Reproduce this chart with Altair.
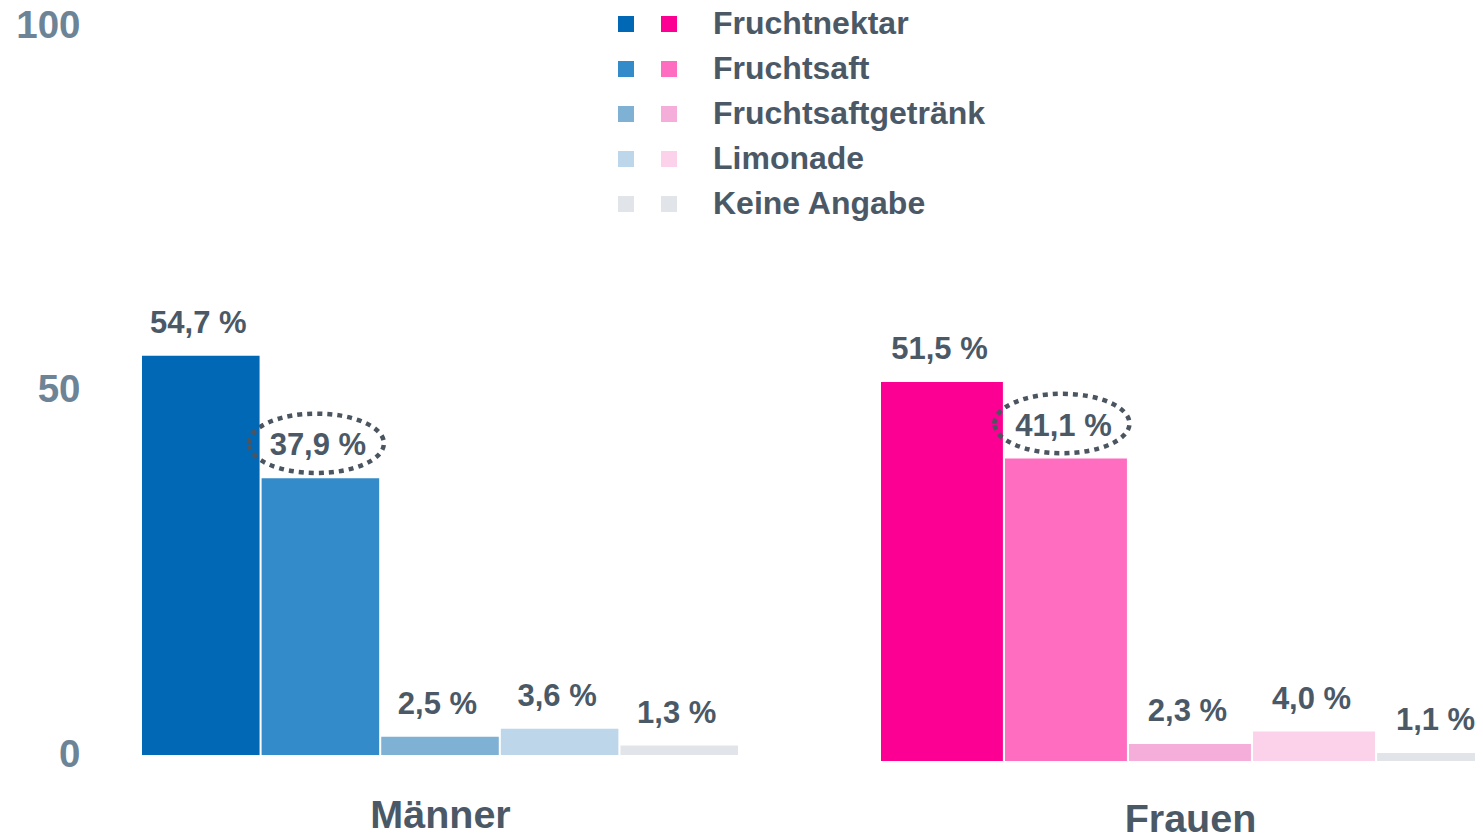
import altair as alt
import pandas as pd

drinks = ["Fruchtnektar", "Fruchtsaft", "Fruchtsaftgetränk", "Limonade", "Keine Angabe"]
maenner_values = [54.7, 37.9, 2.5, 3.6, 1.3]
frauen_values = [51.5, 41.1, 2.3, 4.0, 1.1]
maenner_colors = ["#0068b5", "#348bca", "#7fb1d4", "#bdd6ea", "#e1e5ea"]
frauen_colors = ["#fc0093", "#ff6dc1", "#f5aed9", "#fbd2e9", "#e1e5ea"]
highlight = "Fruchtsaft"
y_ticks = [0, 50, 100]

FONT = "Liberation Sans"
TEXT = "#4b5967"
AXIS = "#6d8497"
DOTS = "#4a5560"
ELLIPSE = "M -1 0 A 1 0.44 0 1 1 1 0 A 1 0.44 0 1 1 -1 0 Z"


def fmt(v):
    return f"{v:.1f}".replace(".", ",") + " %"


def frame(values):
    return pd.DataFrame({
        "Getränk": drinks,
        "Wert": values,
        "Label": [fmt(v) for v in values],
        "Hervor": [d == highlight for d in drinks],
    })


def group(df, colors, x_range, y_domain, title, title_pad, legend_x, show_labels, show_y):
    x = alt.X(
        "Getränk:N", sort=drinks,
        scale=alt.Scale(range=x_range, paddingInner=0.017, paddingOuter=0),
        axis=alt.Axis(labels=False, ticks=False, domain=False, grid=False, orient="bottom",
                      title=title, titlePadding=title_pad, titleFont=FONT, titleFontSize=39.5,
                      titleFontWeight="bold", titleColor=TEXT),
    )
    if show_y:
        y_axis = alt.Axis(values=y_ticks, domain=False, ticks=False, grid=False, title=None,
                          labelFont=FONT, labelFontSize=38.5, labelFontWeight="bold",
                          labelColor=AXIS, labelPadding=8)
    else:
        y_axis = None
    y = alt.Y("Wert:Q", scale=alt.Scale(domain=y_domain, nice=False), axis=y_axis)

    legend_opts = dict(orient="none", legendX=legend_x, legendY=-17, title=None,
                       symbolType="square", symbolSize=256, symbolStrokeWidth=0,
                       labelFont=FONT, labelFontSize=32, labelFontWeight="bold",
                       labelColor=TEXT, labelOffset=28, rowPadding=13, padding=0,
                       labelLimit=400)
    if not show_labels:
        legend_opts["labelExpr"] = "''"

    bars = alt.Chart(df).mark_bar(clip=True).encode(
        x=x, y=y, y2=alt.datum(0),
        color=alt.Color(
            "Getränk:N", sort=drinks,
            scale=alt.Scale(domain=drinks, range=colors),
            legend=alt.Legend(**legend_opts),
        ),
    )
    labels = alt.Chart(df).mark_text(
        dy=-32, dx=-2.5, font=FONT, fontSize=31, fontWeight="bold", color=TEXT, baseline="middle"
    ).encode(x=alt.X("Getränk:N", sort=drinks), y="Wert:Q", text="Label:N")
    ring = alt.Chart(df).transform_filter("datum.Hervor").mark_point(
        shape=ELLIPSE, size=18225, filled=False, stroke=DOTS, strokeWidth=4.5,
        strokeDash=[5, 5], strokeCap="butt", opacity=1, xOffset=-4, yOffset=-35
    ).encode(x=alt.X("Getränk:N", sort=drinks), y="Wert:Q")
    return alt.layer(bars, labels, ring)


maenner = group(frame(maenner_values), maenner_colors, [54, 650], [-0.822, 100],
                "Männer", 35, 522, False, True)
frauen = group(frame(frauen_values), frauen_colors, [793, 1411], [0, 100],
               "Frauen", 39, 565, True, False)

chart = alt.layer(maenner, frauen).resolve_scale(
    x="independent", y="independent", color="independent"
).resolve_legend(color="independent").properties(
    width=1387, height=736,
    autosize=alt.AutoSizeParams(type="none"),
    padding={"left": 80, "top": 17, "right": 0, "bottom": 75},
    background="white",
).configure_view(stroke=None)

chart.save("out.html", embed_options={"renderer": "svg", "actions": False})
